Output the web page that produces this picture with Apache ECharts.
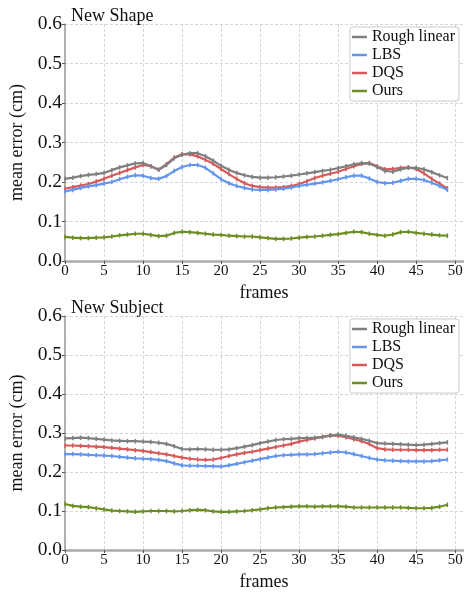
<!DOCTYPE html>
<html>
<head>
<meta charset="utf-8">
<script src="https://cdn.jsdelivr.net/npm/echarts@6/dist/echarts.min.js"></script>
<style>
html,body{margin:0;padding:0;background:#fff;}
#chart{width:468px;height:592px;}
</style>
</head>
<body>
<div id="chart"></div>
<script>
var frames = [0,1,2,3,4,5,6,7,8,9,10,11,12,13,14,15,16,17,18,19,20,21,22,23,24,25,26,27,28,29,30,31,32,33,34,35,36,37,38,39,40,41,42,43,44,45,46,47,48,49];
var xTicks = [0,5,10,15,20,25,30,35,40,45,50];
var seriesNames = ["Rough linear","LBS","DQS","Ours"];
var titles = ["New Shape","New Subject"];

var roughTop = [0.208,0.211,0.215,0.218,0.220,0.223,0.230,0.237,0.242,0.247,0.248,0.240,0.231,0.243,0.260,0.269,0.273,0.273,0.265,0.254,0.241,0.231,0.223,0.217,0.213,0.211,0.211,0.212,0.214,0.216,0.219,0.222,0.225,0.228,0.231,0.235,0.240,0.245,0.248,0.247,0.238,0.228,0.226,0.232,0.236,0.236,0.232,0.225,0.217,0.210];
var lbsTop = [0.176,0.180,0.185,0.189,0.192,0.196,0.200,0.207,0.213,0.217,0.216,0.210,0.208,0.215,0.228,0.238,0.243,0.243,0.236,0.222,0.207,0.197,0.190,0.185,0.181,0.180,0.180,0.181,0.183,0.186,0.190,0.193,0.196,0.199,0.203,0.207,0.212,0.216,0.216,0.209,0.200,0.197,0.198,0.203,0.208,0.208,0.205,0.198,0.190,0.180];
var dqsTop = [0.183,0.187,0.191,0.195,0.201,0.208,0.216,0.223,0.230,0.237,0.243,0.240,0.231,0.245,0.262,0.270,0.270,0.265,0.256,0.246,0.233,0.220,0.208,0.197,0.190,0.187,0.186,0.186,0.187,0.190,0.195,0.202,0.210,0.216,0.221,0.226,0.233,0.240,0.246,0.248,0.240,0.232,0.233,0.236,0.237,0.233,0.222,0.208,0.196,0.184];
var oursTop = [0.061,0.059,0.058,0.058,0.059,0.060,0.062,0.065,0.067,0.069,0.069,0.066,0.063,0.064,0.071,0.074,0.073,0.071,0.069,0.067,0.066,0.064,0.063,0.062,0.062,0.060,0.058,0.056,0.056,0.057,0.059,0.061,0.062,0.064,0.066,0.068,0.071,0.074,0.073,0.069,0.066,0.064,0.067,0.073,0.074,0.071,0.069,0.067,0.065,0.064];

var roughBot = [0.286,0.287,0.288,0.287,0.285,0.283,0.281,0.280,0.279,0.279,0.278,0.277,0.275,0.272,0.266,0.259,0.258,0.259,0.258,0.257,0.257,0.258,0.261,0.265,0.269,0.274,0.278,0.282,0.284,0.285,0.287,0.287,0.288,0.290,0.293,0.296,0.293,0.289,0.285,0.280,0.274,0.273,0.272,0.271,0.270,0.269,0.270,0.272,0.274,0.276];
var lbsBot = [0.246,0.246,0.245,0.244,0.243,0.242,0.241,0.239,0.237,0.235,0.234,0.233,0.231,0.228,0.222,0.217,0.216,0.216,0.215,0.215,0.214,0.217,0.221,0.225,0.229,0.233,0.237,0.241,0.243,0.244,0.245,0.245,0.246,0.248,0.250,0.252,0.250,0.246,0.241,0.236,0.232,0.230,0.229,0.228,0.227,0.227,0.227,0.228,0.230,0.232];
var dqsBot = [0.268,0.268,0.267,0.266,0.265,0.264,0.262,0.260,0.258,0.256,0.254,0.251,0.248,0.245,0.241,0.237,0.234,0.232,0.231,0.232,0.236,0.241,0.245,0.249,0.252,0.256,0.260,0.264,0.268,0.272,0.278,0.282,0.286,0.290,0.294,0.293,0.289,0.284,0.279,0.272,0.261,0.258,0.257,0.257,0.257,0.256,0.256,0.256,0.257,0.257];
var oursBot = [0.118,0.113,0.111,0.110,0.107,0.104,0.101,0.100,0.099,0.098,0.099,0.100,0.100,0.100,0.099,0.100,0.102,0.103,0.102,0.099,0.098,0.098,0.099,0.100,0.102,0.104,0.107,0.109,0.110,0.111,0.112,0.112,0.111,0.112,0.112,0.112,0.111,0.109,0.109,0.109,0.109,0.109,0.109,0.109,0.108,0.107,0.107,0.108,0.111,0.116];

var colors = ["#7f7f7f","#6495ed","#d65a5a","#6b8e23"];
var FONT = "'Liberation Serif','Times New Roman',serif";

var panels = [[roughTop,lbsTop,dqsTop,oursTop],[roughBot,lbsBot,dqsBot,oursBot]];
var gridTops = [24, 316];

function pairs(vals){ return frames.map(function(f,i){ return [f, vals[i]]; }); }

var option = {
  backgroundColor: '#fff',
  animation: false,
  title: [],
  legend: [],
  grid: [],
  xAxis: [],
  yAxis: [],
  series: []
};

panels.forEach(function(p, gi){
  option.title.push({
    text: titles[gi], left: 66, top: gridTops[gi] - 22,
    textStyle: {fontFamily: FONT, fontSize: 18, fontWeight: 'normal', color: '#111'}
  });
  option.grid.push({left: 65, top: gridTops[gi], width: 398, height: 237});
  option.legend.push({
    data: seriesNames.map(function(n){ return n + (gi ? ' ' : ''); }),
    formatter: function(n){ return n.trim(); },
    orient: 'vertical', right: 9, top: gridTops[gi] + 3,
    icon: 'rect',
    itemWidth: 15, itemHeight: 2.5, itemGap: 2,
    padding: [2, 4, 2, 2],
    backgroundColor: '#fff', borderColor: '#cccccc', borderWidth: 1, borderRadius: 3,
    textStyle: {fontFamily: FONT, fontSize: 16, color: '#111', lineHeight: 14}
  });
  option.xAxis.push({
    type: 'value', gridIndex: gi, min: 0, max: 51, interval: 5,
    name: 'frames', nameLocation: 'middle', nameGap: 23,
    nameTextStyle: {fontFamily: FONT, fontSize: 18, color: '#111'},
    axisLine: {show: true, onZero: false, lineStyle: {color: '#aaaaaa', width: 2.5}},
    axisTick: {show: true, length: 3, lineStyle: {color: '#555'}, customValues: xTicks},
    axisLabel: {fontFamily: FONT, fontSize: 15, color: '#111', margin: 3, customValues: xTicks},
    splitLine: {show: true, lineStyle: {color: '#cccccc', type: [3, 2], width: 0.8}}
  });
  option.yAxis.push({
    type: 'value', gridIndex: gi, min: 0, max: 0.6, interval: 0.1,
    name: 'mean error (cm)', nameLocation: 'middle', nameGap: 33,
    nameTextStyle: {fontFamily: FONT, fontSize: 18, color: '#111'},
    axisLine: {show: true, lineStyle: {color: '#999999', width: 1.5}},
    axisTick: {show: true, length: 3, lineStyle: {color: '#555'}},
    axisLabel: {fontFamily: FONT, fontSize: 19.5, color: '#111', margin: 3,
      formatter: function(v){ return v.toFixed(1); }},
    splitLine: {show: true, lineStyle: {color: '#cccccc', type: [3, 2], width: 0.8}}
  });
  p.forEach(function(vals, si){
    option.series.push({
      type: 'line', name: seriesNames[si] + (gi ? ' ' : ''),
      xAxisIndex: gi, yAxisIndex: gi,
      data: pairs(vals),
      symbol: 'rect', symbolSize: [1.5, 4.5], showSymbol: true,
      lineStyle: {color: colors[si], width: 2.2},
      itemStyle: {color: colors[si]},
      z: 2 + (3 - si)
    });
  });
});

var chart = echarts.init(document.getElementById('chart'), null, {renderer: 'canvas'});
chart.setOption(option);
</script>
</body>
</html>
